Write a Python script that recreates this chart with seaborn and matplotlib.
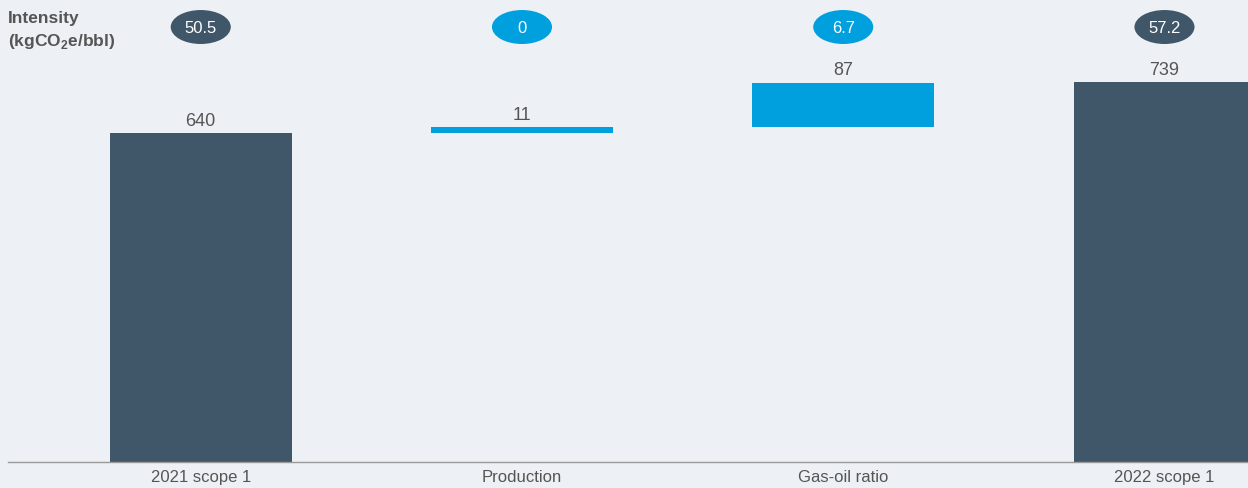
import matplotlib
matplotlib.use('Agg')
import matplotlib.pyplot as plt
import matplotlib.transforms as mtransforms
from matplotlib.patches import Ellipse
import seaborn as sns
import numpy as np

# ---- data ----
categories = ['2021 scope 1', 'Production', 'Gas-oil ratio', '2022 scope 1']
changes = [640, 11, 87, 739]          # labelled values
bottoms = [0, 640, 651, 0]            # waterfall start for each bar
intensity = ['50.5', '0', '6.7', '57.2']
is_total = [True, False, False, True]

DARK = '#40576a'
BLUE = '#00a0df'
BG = '#edf1f5'
TXT = '#555555'

sns.set_theme(style='white')
plt.rcParams['font.family'] = ['Liberation Sans', 'DejaVu Sans']
plt.rcParams['mathtext.fontset'] = 'custom'
plt.rcParams['mathtext.rm'] = 'Liberation Sans'
plt.rcParams['mathtext.bf'] = 'Liberation Sans:bold'

fig = plt.figure(figsize=(12.48, 4.89), dpi=100, facecolor=BG)
ax = fig.add_axes([8 / 1248, 26 / 489, 1240 / 1248, 463 / 489])
ax.set_facecolor(BG)

bar_colors = [DARK if t else BLUE for t in is_total]
sns.barplot(x=categories, y=changes, bottom=bottoms, color=DARK,
            width=0.566, saturation=1, ax=ax)
for patch, c in zip(ax.patches, bar_colors):
    patch.set_facecolor(c)
    patch.set_edgecolor('none')

ax.set_xlim(-0.6, 3.26)
ax.set_ylim(0, 900.6)

# value labels on top of bars
for i, (v, b) in enumerate(zip(changes, bottoms)):
    ax.annotate(str(v), (i, v + b), xytext=(0, 3), textcoords='offset points',
                ha='center', va='bottom', fontsize=13, color=TXT)

# intensity ellipses
trans = mtransforms.blended_transform_factory(ax.transData, ax.transAxes)
for i, (lab, t) in enumerate(zip(intensity, is_total)):
    c = DARK if t else BLUE
    e = Ellipse((i, 0.9395), width=0.187, height=0.0734, transform=trans,
                facecolor=c, edgecolor='none', clip_on=False)
    ax.add_patch(e)
    ax.text(i, 0.9395, lab, transform=trans, ha='center', va='center',
            fontsize=12, color='white')

fig.text(8 / 1248, 1 - 18 / 489, 'Intensity', ha='left', va='center',
         fontsize=12.5, fontweight='bold', color=TXT)
fig.text(8 / 1248, 1 - 42 / 489, r'(kgCO$_{\mathbf{2}}$e/bbl)', ha='left',
         va='center', fontsize=12.5, fontweight='bold', color=TXT)

for s in ['top', 'right', 'left']:
    ax.spines[s].set_visible(False)
ax.spines['bottom'].set_color('#999999')
ax.spines['bottom'].set_linewidth(1)
ax.set_yticks([])
ax.set_xlabel('')
ax.set_ylabel('')
ax.tick_params(axis='x', length=0, pad=5, labelsize=12, labelcolor=TXT)

fig.savefig('out.png', dpi=100, facecolor=BG)
